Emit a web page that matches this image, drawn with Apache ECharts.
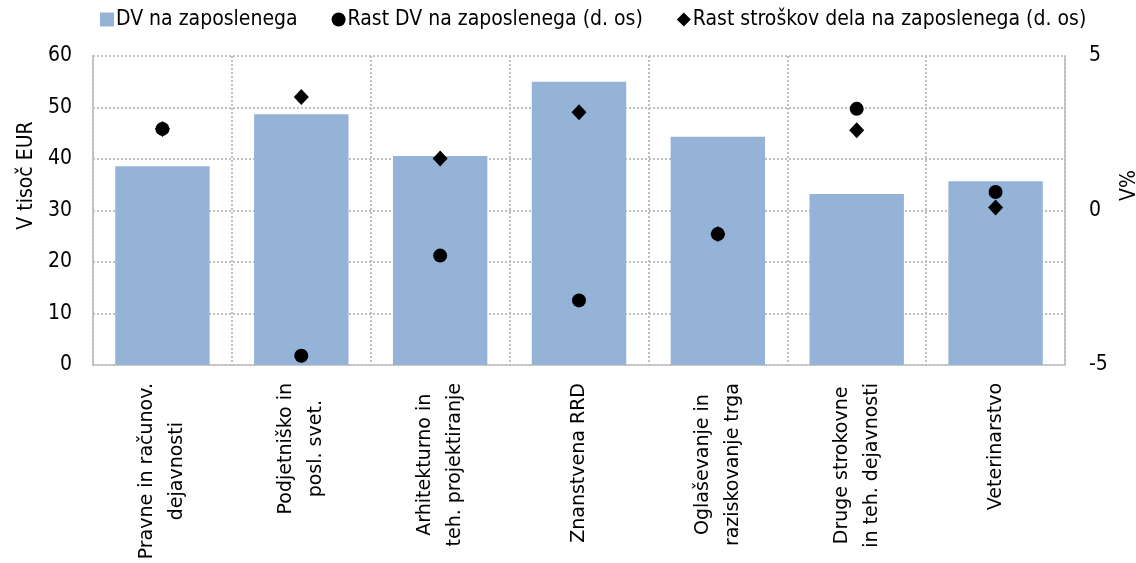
<!DOCTYPE html>
<html><head><meta charset="utf-8">
<script src="https://cdn.jsdelivr.net/npm/echarts@6/dist/echarts.min.js"></script>
<style>html,body{margin:0;padding:0;background:#fff}#c{width:1136px;height:563px}</style>
</head><body><div id="c"></div>
<script>
const categories = [
  "Pravne in računov.\ndejavnosti",
  "Podjetniško in\nposl. svet.",
  "Arhitekturno in\nteh. projektiranje",
  "Znanstvena RRD",
  "Oglaševanje in\nraziskovanje trga",
  "Druge strokovne\nin teh. dejavnosti",
  "Veterinarstvo"
];
const dvNaZaposlenega = [38.6, 48.7, 40.6, 55.0, 44.3, 33.2, 35.7];
const rastDV = [2.64, -4.70, -1.46, -2.91, -0.76, 3.29, 0.60];
const rastStroskov = [2.64, 3.67, 1.68, 3.18, -0.76, 2.60, 0.10];
const leftTicks = [0, 60, 10];
const rightTicks = [-5, 5, 5];

const grid = '#bfbfbf';
const fontN = '"Liberation Sans Narrow", "DejaVu Sans Condensed", sans-serif';
const catFont = '"DejaVu Sans", sans-serif';
const chart = echarts.init(document.getElementById('c'), null, {renderer: 'canvas'});
chart.setOption({
  animation: false,
  backgroundColor: '#fff',
  legend: {
    top: 4, left: 95, itemGap: 34, itemWidth: 14, itemHeight: 14,
    textStyle: {fontFamily: fontN, fontSize: 21, color: '#000', padding: [0, 0, 0, -3]},
    data: [
      {name: 'DV na zaposlenega', icon: 'rect'},
      {name: 'Rast DV na zaposlenega (d. os)', icon: 'circle'},
      {name: 'Rast stroškov dela na zaposlenega (d. os)', icon: 'diamond'}
    ]
  },
  grid: {left: 93, right: 71, top: 56, bottom: 198, containLabel: false, outerBoundsMode: 'none'},
  xAxis: {
    type: 'category', data: categories, boundaryGap: true,
    axisLine: {show: true, lineStyle: {color: grid, type: [2, 2], width: 2}},
    axisTick: {show: false},
    splitLine: {show: true, lineStyle: {color: grid, type: [2, 2], width: 2}},
    axisLabel: {
      rotate: 90, interval: 0, margin: 18, color: '#000',
      fontFamily: catFont, fontSize: 19, lineHeight: 30,
      formatter: v => v.split('\n').map(l => '{c|' + l + '}').join('\n'),
      rich: {c: {align: 'center', fontFamily: catFont, fontSize: 19, lineHeight: 30, color: '#000'}}
    }
  },
  yAxis: [
    {
      type: 'value', min: leftTicks[0], max: leftTicks[1], interval: leftTicks[2],
      name: 'V tisoč EUR', nameLocation: 'middle', nameRotate: 90, nameGap: 56,
      nameTextStyle: {fontFamily: fontN, fontSize: 21, color: '#000', padding: [0, 0, 0, 70]},
      axisLine: {show: true, lineStyle: {color: grid, type: [2, 2], width: 2}},
      axisTick: {show: false},
      axisLabel: {margin: 21, fontFamily: fontN, fontSize: 21, color: '#000'},
      splitLine: {show: true, lineStyle: {color: grid, type: [2, 2], width: 2}}
    },
    {
      type: 'value', min: rightTicks[0], max: rightTicks[1], interval: rightTicks[2],
      name: 'V%', nameLocation: 'middle', nameRotate: 90, nameGap: 50,
      nameTextStyle: {fontFamily: fontN, fontSize: 21, color: '#000', padding: [0, 0, 0, 50]},
      axisLine: {show: true, lineStyle: {color: grid, type: [2, 2], width: 2}},
      axisTick: {show: false},
      axisLabel: {margin: 24, fontFamily: fontN, fontSize: 21, color: '#000'},
      splitLine: {show: false}
    }
  ],
  series: [
    {
      name: 'DV na zaposlenega', type: 'bar', data: dvNaZaposlenega,
      itemStyle: {color: '#95b3d7'}, barCategoryGap: '32%'
    },
    {
      name: 'Rast DV na zaposlenega (d. os)', type: 'scatter', yAxisIndex: 1,
      data: rastDV, symbol: 'circle', symbolSize: 14,
      itemStyle: {color: '#000', opacity: 1}, z: 5
    },
    {
      name: 'Rast stroškov dela na zaposlenega (d. os)', type: 'scatter', yAxisIndex: 1,
      data: rastStroskov, symbol: 'diamond', symbolSize: [15, 16],
      itemStyle: {color: '#000', opacity: 1}, z: 6
    }
  ]
});
</script></body></html>
